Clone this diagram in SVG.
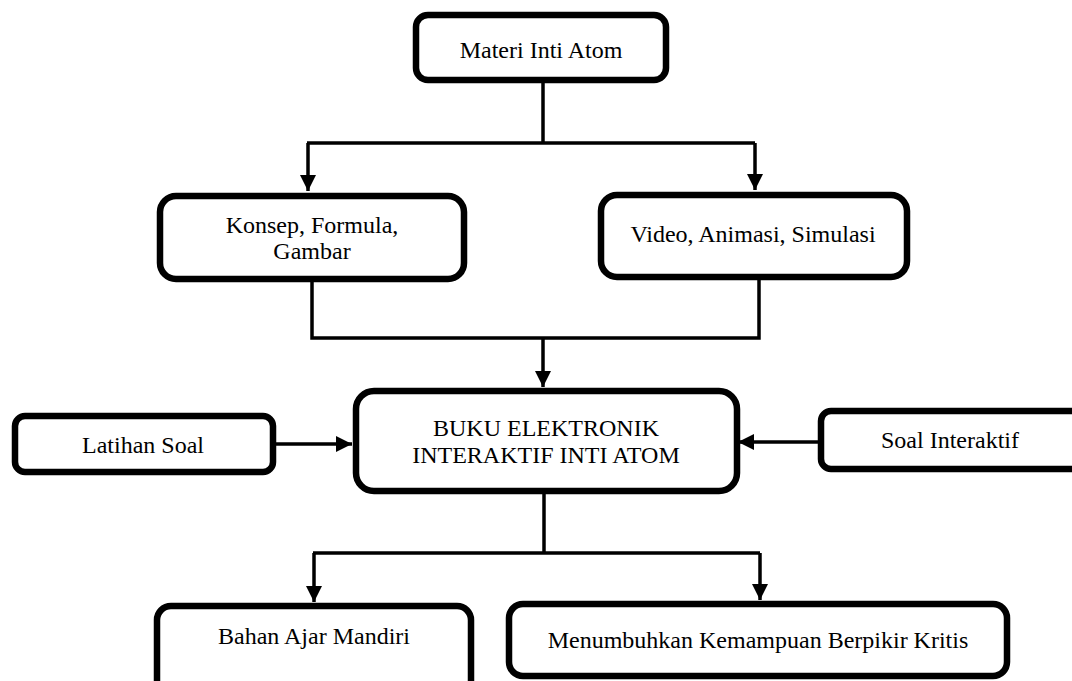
<svg xmlns="http://www.w3.org/2000/svg" width="1072" height="681" viewBox="0 0 1072 681">
<style>
.box{fill:#fff;stroke:#000;stroke-width:6.5}
.lbl{font-family:"Liberation Serif","Times New Roman",serif;font-size:24px;fill:#000;text-anchor:middle}
.ln{fill:none;stroke:#000;stroke-width:3.5}
</style>
<defs>
<marker id="ah" viewBox="0 0 10 10" refX="10" refY="5" markerWidth="16" markerHeight="16" markerUnits="userSpaceOnUse" orient="auto">
<path d="M0,0 L10,5 L0,10 Z" fill="#000"/>
</marker>
</defs>
<g id="connectors">
<path class="ln" d="M543,83 V143"/>
<path class="ln" d="M307,143 H755"/>
<path class="ln" d="M308,143 V191" marker-end="url(#ah)"/>
<path class="ln" d="M755,143 V190" marker-end="url(#ah)"/>
<path class="ln" d="M312,282 V338 H759 V280"/>
<path class="ln" d="M543,338 V387" marker-end="url(#ah)"/>
<path class="ln" d="M276,444 H352" marker-end="url(#ah)"/>
<path class="ln" d="M818,442 H738" marker-end="url(#ah)"/>
<path class="ln" d="M544,494 V553"/>
<path class="ln" d="M313,553 H760"/>
<path class="ln" d="M314,553 V602" marker-end="url(#ah)"/>
<path class="ln" d="M760,553 V600" marker-end="url(#ah)"/>
</g>
<g id="n-materi">
<rect class="box" x="416" y="15" width="250" height="65" rx="12"/>
<text class="lbl" x="541" y="58">Materi Inti Atom</text>
</g>
<g id="n-konsep">
<rect class="box" x="160" y="196" width="304" height="83" rx="16"/>
<text class="lbl" x="312" y="233">Konsep, Formula,</text>
<text class="lbl" x="312" y="259">Gambar</text>
</g>
<g id="n-video">
<rect class="box" x="601" y="195" width="306" height="82" rx="16"/>
<text class="lbl" x="753" y="242">Video, Animasi, Simulasi</text>
</g>
<g id="n-buku">
<rect class="box" x="356" y="391" width="381" height="100" rx="18"/>
<text class="lbl" x="546" y="436">BUKU ELEKTRONIK</text>
<text class="lbl" x="546" y="463">INTERAKTIF INTI ATOM</text>
</g>
<g id="n-latihan">
<rect class="box" x="15" y="416" width="258" height="56" rx="10"/>
<text class="lbl" x="143" y="453">Latihan Soal</text>
</g>
<g id="n-soal">
<rect class="box" x="821" y="411" width="280" height="58" rx="10"/>
<text class="lbl" x="950" y="448">Soal Interaktif</text>
</g>
<g id="n-bahan">
<rect class="box" x="157" y="606" width="314" height="100" rx="14"/>
<text class="lbl" x="314" y="644">Bahan Ajar Mandiri</text>
</g>
<g id="n-menumbuhkan">
<rect class="box" x="509" y="604" width="498" height="72" rx="14"/>
<text class="lbl" x="758" y="648">Menumbuhkan Kemampuan Berpikir Kritis</text>
</g>
</svg>
